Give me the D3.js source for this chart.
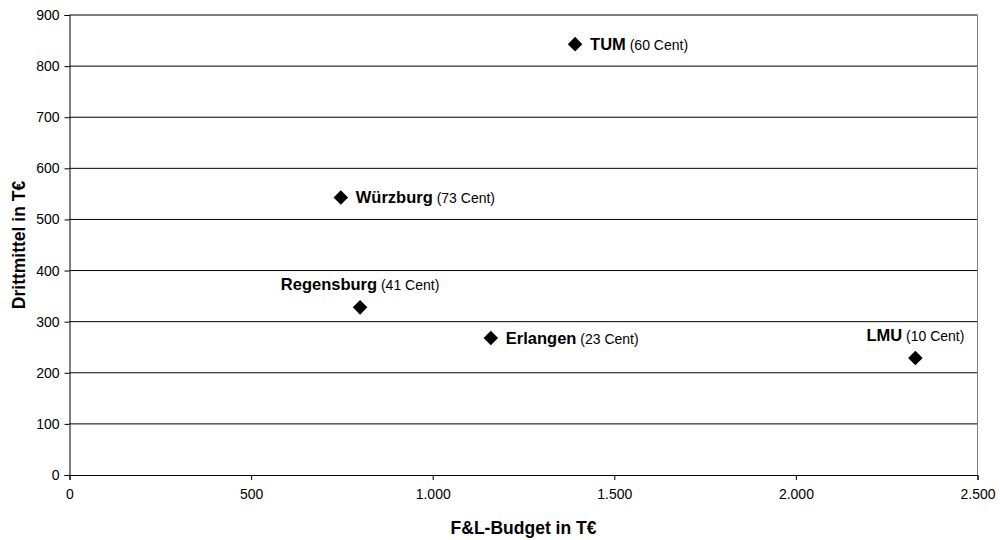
<!DOCTYPE html>
<html>
<head>
<meta charset="utf-8">
<script src="https://cdn.jsdelivr.net/npm/d3@7"></script>
<style>
  body { margin: 0; background: #fff; }
  svg { display: block; font-family: Arial, "Liberation Sans", sans-serif; }
</style>
</head>
<body>
<svg id="chart" width="1000" height="540"></svg>
<script>
// Universities: F&L budget vs. third-party funds (both in T€)
const names    = ["TUM", "Würzburg", "Regensburg", "Erlangen", "LMU"];
const budget   = [1392, 747, 800, 1160, 2329];
const funds    = [843, 543, 328, 268, 229];
const cents    = [60, 73, 41, 23, 10];
const labelPos = ["right", "right", "above", "right", "above"];

const xTicks = [0, 500, 1000, 1500, 2000, 2500];
const yTicks = [0, 100, 200, 300, 400, 500, 600, 700, 800, 900];

const points = names.map((n, i) => ({
  name: n, x: budget[i], y: funds[i], cent: cents[i], pos: labelPos[i]
}));

const svg = d3.select("#chart");
const m = { left: 69.5, right: 977.5, top: 15, bottom: 475 };

const de = d3.formatLocale({ decimal: ",", thousands: ".", grouping: [3], currency: ["", "€"] });
const fmt = de.format(",d");

const x = d3.scaleLinear().domain([0, 2500]).range([m.left, m.right]);
const y = d3.scaleLinear().domain([0, 900]).range([m.bottom, m.top]);

// horizontal gridlines
svg.append("g").selectAll("line").data(yTicks.filter(d => d > 0)).join("line")
  .attr("x1", m.left).attr("x2", m.right)
  .attr("y1", d => y(d)).attr("y2", d => y(d))
  .attr("stroke", "#000").attr("stroke-width", 1);

// plot frame: gray top/right, black axes
svg.append("line").attr("x1", m.left).attr("x2", m.right).attr("y1", m.top).attr("y2", m.top)
  .attr("stroke", "#808080");
svg.append("line").attr("x1", m.right).attr("x2", m.right).attr("y1", m.top).attr("y2", m.bottom)
  .attr("stroke", "#808080");

const yAxis = svg.append("g").attr("transform", `translate(${m.left},0)`)
  .call(d3.axisLeft(y).tickValues(yTicks).tickSize(5).tickPadding(5).tickFormat(fmt));
const xAxis = svg.append("g").attr("transform", `translate(0,${m.bottom})`)
  .call(d3.axisBottom(x).tickValues(xTicks).tickSize(5).tickPadding(9).tickFormat(fmt));

[yAxis, xAxis].forEach(a => {
  a.select(".domain").attr("stroke", "#000");
  a.selectAll(".tick line").attr("stroke", "#000");
  a.selectAll(".tick text").attr("font-size", 14).attr("fill", "#000")
    .attr("font-family", "Arial, 'Liberation Sans', sans-serif");
});

// axis titles
svg.append("text")
  .attr("x", (m.left + m.right) / 2).attr("y", 534)
  .attr("text-anchor", "middle").attr("font-size", 17.5).attr("font-weight", "bold")
  .text("F&L-Budget in T€");
svg.append("text")
  .attr("transform", `translate(25,${(m.top + m.bottom) / 2}) rotate(-90)`)
  .attr("text-anchor", "middle").attr("font-size", 17.5).attr("font-weight", "bold")
  .text("Drittmittel in T€");

// diamond markers
const diamond = d3.symbol().type(d3.symbolDiamond2).size(135);
svg.append("g").selectAll("path").data(points).join("path")
  .attr("d", diamond)
  .attr("transform", d => `translate(${x(d.x)},${y(d.y)})`)
  .attr("fill", "#000");

// data labels: bold name followed by cents value
const labels = svg.append("g").selectAll("text").data(points).join("text")
  .attr("x", d => d.pos === "right" ? x(d.x) + 15 : x(d.x))
  .attr("y", d => d.pos === "right" ? y(d.y) + 6 : y(d.y) - 17)
  .attr("text-anchor", d => d.pos === "right" ? "start" : "middle")
  .attr("fill", "#000");
labels.append("tspan").attr("font-size", 16.5).attr("font-weight", "bold").text(d => d.name);
labels.append("tspan").attr("font-size", 14).text(d => ` (${d.cent} Cent)`);
</script>
</body>
</html>
